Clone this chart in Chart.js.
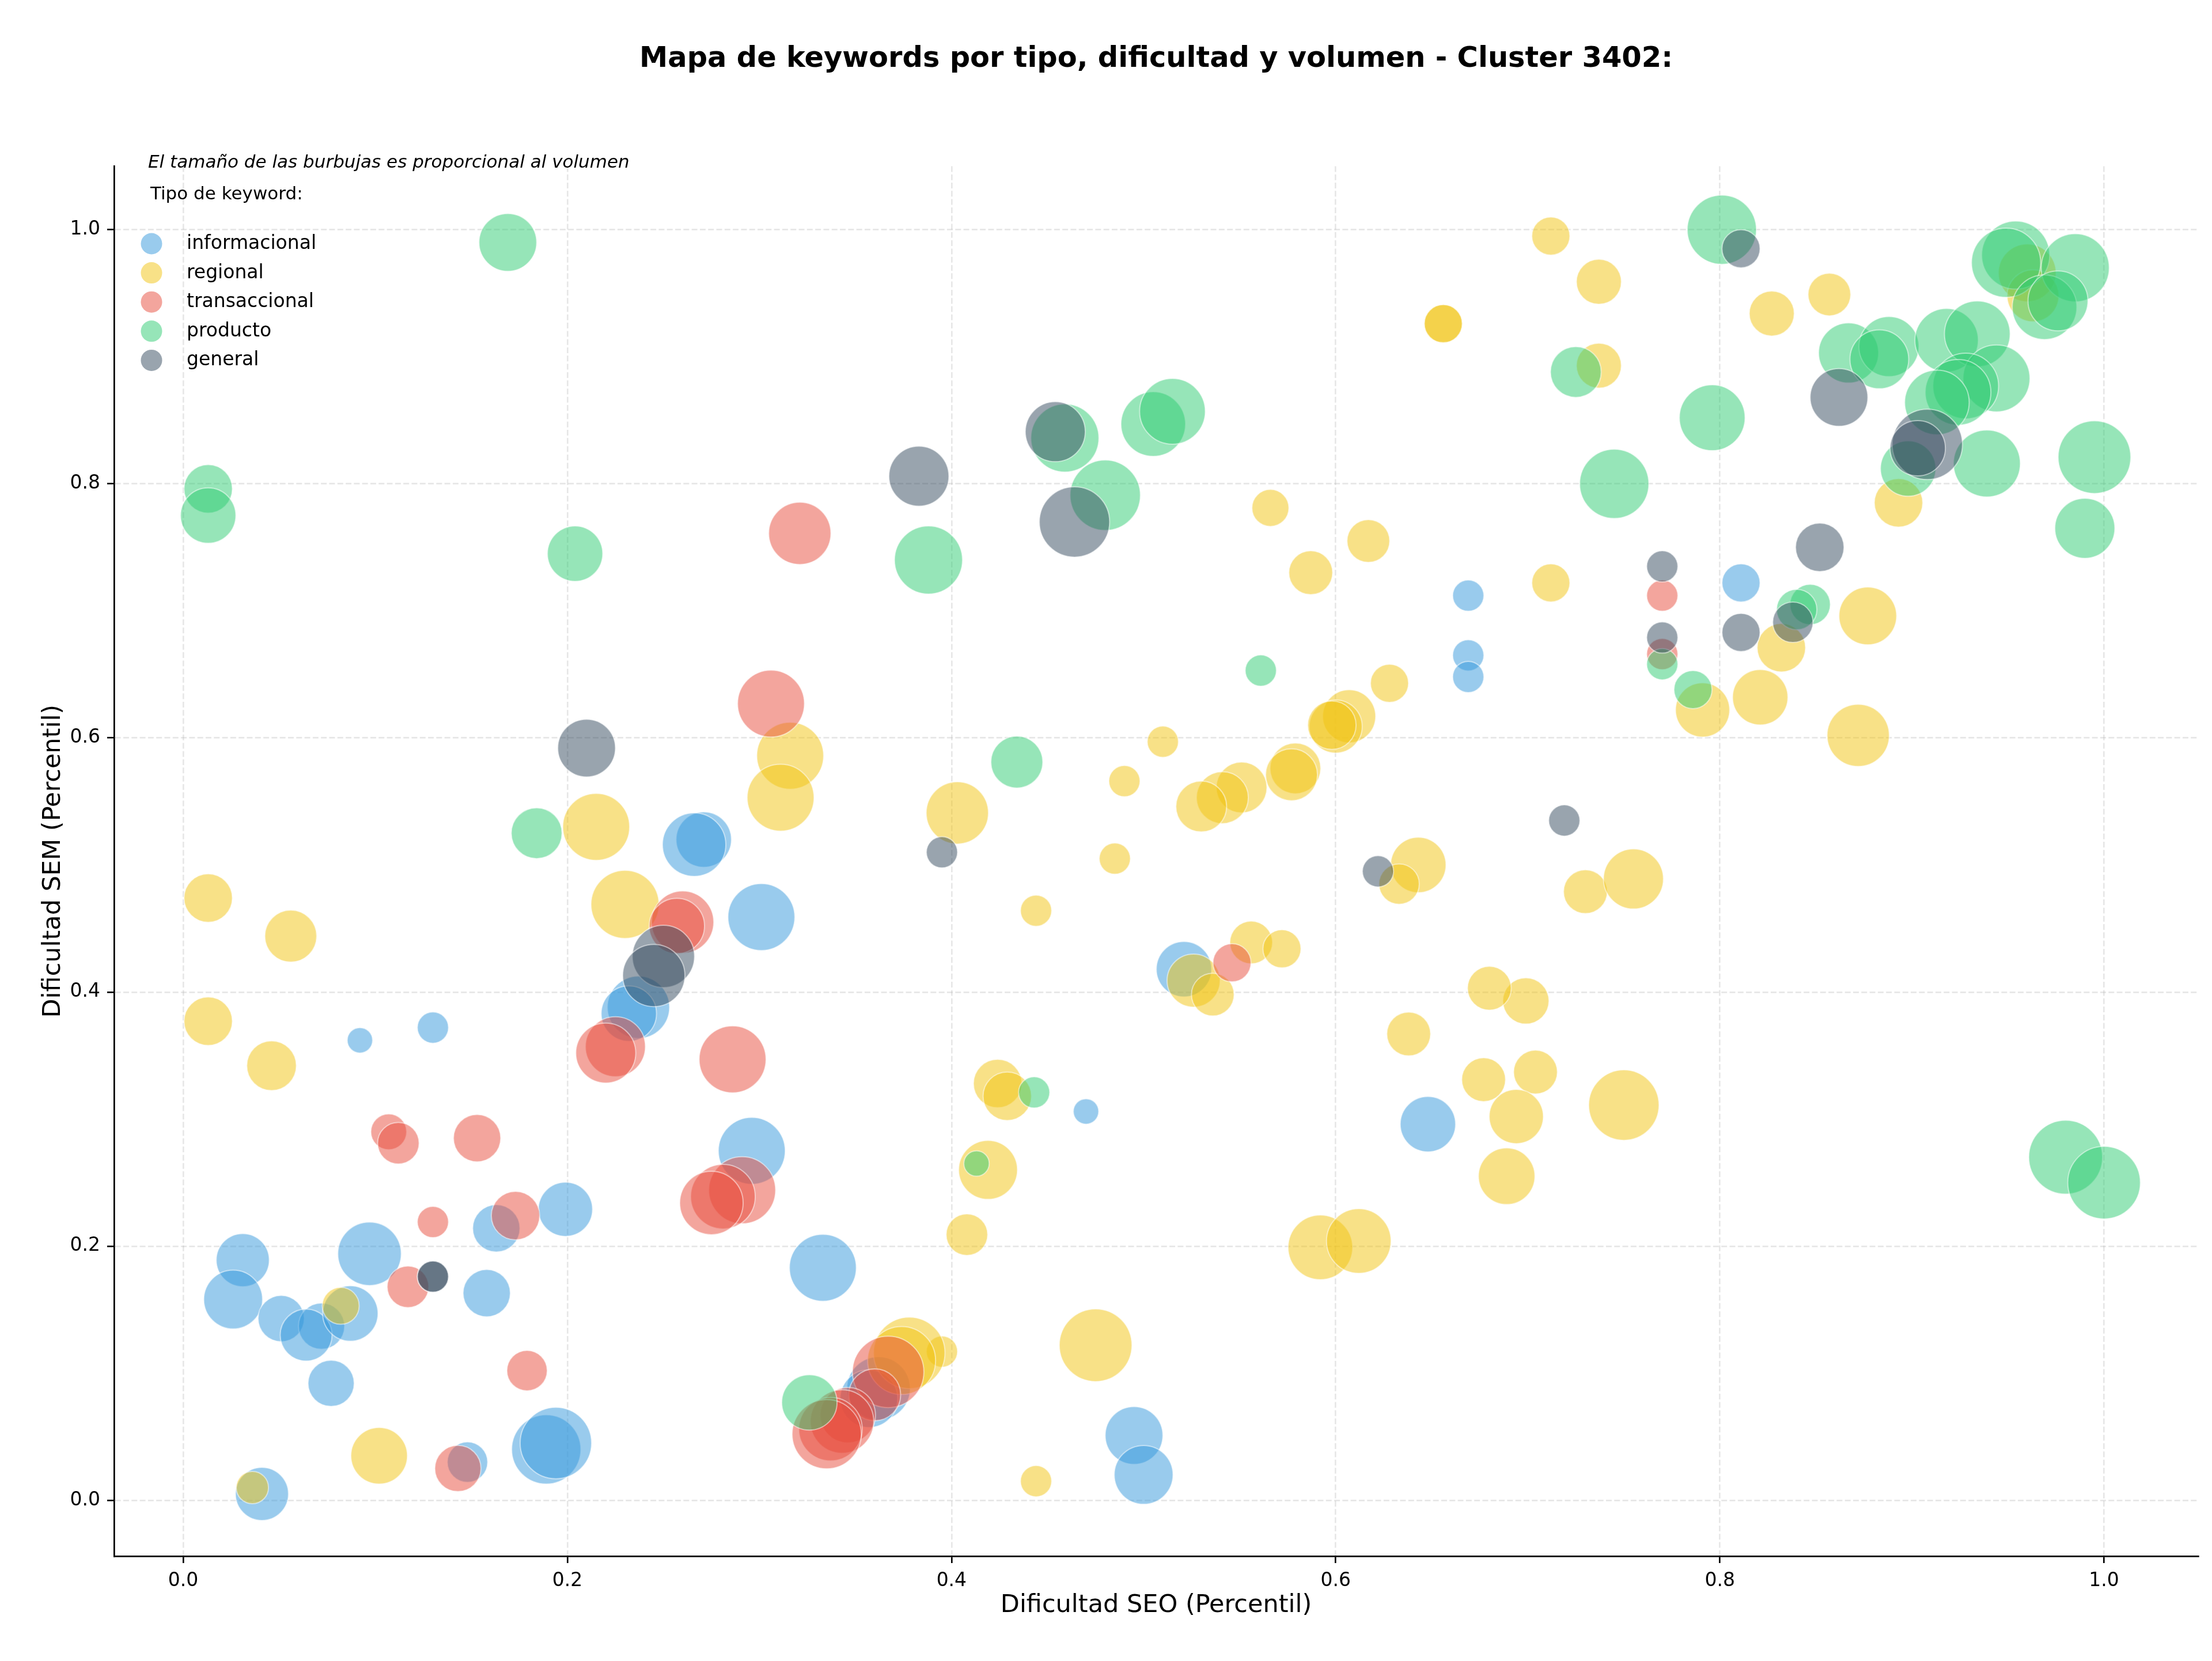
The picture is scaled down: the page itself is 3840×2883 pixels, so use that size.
<!DOCTYPE html>
<html>
<head>
<meta charset="utf-8">
<title>Mapa de keywords - Cluster 3402</title>
<script src="https://cdn.jsdelivr.net/npm/chart.js@4.4.0/dist/chart.umd.min.js"></script>
<style>
  html, body { margin: 0; padding: 0; background: #fff; }
</style>
</head>
<body>
<canvas id="mapaKeywords" width="3840" height="2883"></canvas>
<script>
// tipos de keyword y colores
const tipos = ["informacional", "regional", "transaccional", "producto", "general"];
const colores = ["#3498db", "#f1c40f", "#e74c3c", "#2ecc71", "#34495e"];

// informacional
const infoSeo = [0.669, 0.811, 0.669, 0.669, 0.521, 0.470, 0.648, 0.495, 0.500, 0.333, 0.362, 0.357, 0.296, 0.199, 0.163, 0.031, 0.026, 0.097, 0.158, 0.051, 0.072, 0.064, 0.087, 0.077, 0.148, 0.189, 0.194, 0.041, 0.271, 0.266, 0.301, 0.237, 0.232, 0.092, 0.130];
const infoSem = [0.712, 0.722, 0.665, 0.648, 0.418, 0.306, 0.296, 0.051, 0.020, 0.183, 0.088, 0.080, 0.275, 0.229, 0.214, 0.189, 0.158, 0.194, 0.163, 0.143, 0.137, 0.130, 0.147, 0.092, 0.030, 0.040, 0.045, 0.005, 0.520, 0.516, 0.459, 0.388, 0.383, 0.362, 0.372];
const infoVol = [151, 225, 151, 151, 476, 100, 476, 517, 537, 695, 625, 517, 695, 456, 347, 437, 537, 625, 347, 331, 331, 418, 476, 331, 253, 744, 794, 437, 476, 625, 695, 602, 476, 100, 151];

// regional
const regSeo = [0.656, 0.656, 0.566, 0.617, 0.587, 0.712, 0.737, 0.857, 0.827, 0.960, 0.963, 0.737, 0.893, 0.712, 0.877, 0.832, 0.791, 0.821, 0.872, 0.730, 0.755, 0.699, 0.704, 0.750, 0.694, 0.689, 0.628, 0.607, 0.600, 0.598, 0.510, 0.490, 0.579, 0.577, 0.551, 0.541, 0.530, 0.403, 0.485, 0.444, 0.643, 0.633, 0.526, 0.536, 0.556, 0.572, 0.680, 0.638, 0.677, 0.424, 0.429, 0.419, 0.408, 0.592, 0.612, 0.475, 0.444, 0.395, 0.378, 0.374, 0.316, 0.311, 0.215, 0.230, 0.013, 0.056, 0.013, 0.046, 0.082, 0.102, 0.036];
const regSem = [0.926, 0.926, 0.781, 0.755, 0.730, 0.995, 0.959, 0.949, 0.934, 0.966, 0.948, 0.893, 0.785, 0.722, 0.696, 0.671, 0.622, 0.632, 0.602, 0.479, 0.489, 0.393, 0.337, 0.311, 0.302, 0.255, 0.643, 0.617, 0.609, 0.610, 0.597, 0.566, 0.576, 0.571, 0.561, 0.553, 0.546, 0.541, 0.505, 0.464, 0.500, 0.485, 0.409, 0.398, 0.439, 0.434, 0.403, 0.367, 0.331, 0.328, 0.318, 0.260, 0.209, 0.199, 0.204, 0.122, 0.015, 0.117, 0.116, 0.110, 0.586, 0.553, 0.530, 0.469, 0.474, 0.444, 0.377, 0.342, 0.153, 0.035, 0.010];
const regVol = [225, 225, 212, 283, 298, 225, 314, 283, 314, 517, 418, 314, 364, 225, 517, 364, 456, 476, 602, 298, 559, 331, 298, 769, 456, 496, 225, 437, 437, 364, 151, 151, 400, 418, 400, 418, 400, 602, 151, 151, 476, 253, 437, 283, 283, 225, 298, 298, 298, 364, 364, 537, 268, 648, 648, 820, 151, 151, 794, 719, 695, 695, 695, 719, 364, 418, 364, 382, 212, 496, 162];

// transaccional
const transSeo = [0.321, 0.770, 0.770, 0.546, 0.306, 0.260, 0.257, 0.225, 0.220, 0.286, 0.107, 0.112, 0.153, 0.291, 0.281, 0.275, 0.173, 0.130, 0.117, 0.179, 0.143, 0.367, 0.360, 0.346, 0.343, 0.337, 0.335];
const transSem = [0.761, 0.712, 0.666, 0.423, 0.627, 0.455, 0.452, 0.357, 0.352, 0.347, 0.290, 0.281, 0.285, 0.244, 0.239, 0.234, 0.224, 0.219, 0.168, 0.102, 0.025, 0.101, 0.083, 0.067, 0.062, 0.056, 0.052];
const transVol = [602, 151, 151, 225, 695, 602, 476, 559, 559, 695, 199, 268, 347, 695, 648, 625, 364, 151, 268, 253, 331, 794, 418, 476, 625, 625, 744];

// producto
const prodSeo = [0.169, 0.013, 0.013, 0.204, 0.459, 0.505, 0.515, 0.388, 0.480, 0.801, 0.954, 0.949, 0.985, 0.969, 0.976, 0.867, 0.888, 0.883, 0.918, 0.934, 0.944, 0.928, 0.924, 0.913, 0.898, 0.939, 0.995, 0.990, 0.745, 0.796, 0.725, 0.847, 0.840, 0.770, 0.786, 0.561, 0.434, 0.184, 0.443, 0.413, 0.326, 0.980, 1.000];
const prodSem = [0.990, 0.796, 0.775, 0.745, 0.836, 0.847, 0.857, 0.740, 0.791, 1.000, 0.980, 0.974, 0.970, 0.939, 0.944, 0.903, 0.908, 0.898, 0.913, 0.918, 0.883, 0.877, 0.872, 0.864, 0.812, 0.816, 0.821, 0.765, 0.800, 0.852, 0.888, 0.705, 0.701, 0.658, 0.638, 0.653, 0.581, 0.525, 0.321, 0.265, 0.077, 0.270, 0.250];
const prodVol = [517, 364, 476, 476, 719, 648, 671, 719, 769, 744, 719, 744, 719, 648, 559, 559, 559, 537, 625, 671, 695, 671, 671, 648, 476, 695, 820, 559, 744, 671, 400, 253, 253, 151, 225, 151, 418, 400, 151, 100, 476, 846, 820];

// general
const genSeo = [0.454, 0.383, 0.464, 0.811, 0.862, 0.908, 0.903, 0.852, 0.770, 0.770, 0.838, 0.811, 0.719, 0.622, 0.395, 0.210, 0.250, 0.245, 0.130, 0.130];
const genSem = [0.841, 0.806, 0.770, 0.985, 0.868, 0.831, 0.828, 0.750, 0.735, 0.679, 0.691, 0.683, 0.535, 0.495, 0.510, 0.592, 0.428, 0.413, 0.176, 0.176];
const genVol = [559, 559, 769, 225, 517, 769, 476, 364, 151, 151, 253, 225, 151, 151, 151, 517, 602, 602, 151, 151];

const ejeX = [0.0, 0.2, 0.4, 0.6, 0.8, 1.0];
const ejeY = [0.0, 0.2, 0.4, 0.6, 0.8, 1.0];

const series = [
    [infoSeo, infoSem, infoVol],
    [regSeo, regSem, regVol],
    [transSeo, transSem, transVol],
    [prodSeo, prodSem, prodVol],
    [genSeo, genSem, genVol]
];

function conAlpha(hex, a) {
    const n = parseInt(hex.slice(1), 16);
    return `rgba(${(n >> 16) & 255},${(n >> 8) & 255},${n & 255},${a})`;
}

// radio proporcional a la raiz del volumen (area ~ volumen)
const radio = vol => 2.2 * Math.sqrt(vol);

const datasets = tipos.map((tipo, i) => {
    const [xs, ys, vols] = series[i];
    return {
        label: tipo,
        data: xs.map((x, j) => ({ x: x, y: ys[j], r: radio(vols[j]) })),
        backgroundColor: conAlpha(colores[i], 0.5),
        borderColor: "rgba(255,255,255,0.5)",
        borderWidth: 2,
        order: tipos.length - 1 - i   // el ultimo tipo queda encima
    };
});

const FUENTE = "'DejaVu Sans', sans-serif";
Chart.defaults.font.family = FUENTE;
Chart.defaults.color = "#000";

// nota y leyenda dentro del grafico
const notaYLeyenda = {
    id: "notaYLeyenda",
    afterDraw(chart) {
        const ctx = chart.ctx;
        ctx.save();
        ctx.fillStyle = "#000";
        ctx.textAlign = "left";
        ctx.textBaseline = "alphabetic";
        ctx.font = `italic 31px ${FUENTE}`;
        ctx.fillText("El tamaño de las burbujas es proporcional al volumen", 257, 291);

        ctx.font = `31px ${FUENTE}`;
        ctx.fillText("Tipo de keyword:", 261, 346);

        ctx.font = `33px ${FUENTE}`;
        chart.data.datasets.forEach((ds, i) => {
            const yc = 423 + i * 50.6;
            ctx.beginPath();
            ctx.arc(263, yc, 18.5, 0, Math.PI * 2);
            ctx.fillStyle = ds.backgroundColor;
            ctx.fill();
            ctx.fillStyle = "#000";
            ctx.fillText(ds.label, 324, yc + 9);
        });
        ctx.restore();
    }
};

const rejilla = {
    color: "rgba(176,176,176,0.3)",
    lineWidth: 2.67,
    tickLength: 12,
    tickWidth: 2.67,
    tickColor: "#000",
    tickBorderDash: []
};
const borde = { display: true, color: "#000", width: 2.67, dash: [10, 4.3] };

new Chart(document.getElementById("mapaKeywords").getContext("2d"), {
    type: "bubble",
    data: { datasets: datasets },
    plugins: [notaYLeyenda],
    options: {
        responsive: false,
        devicePixelRatio: 1,
        animation: false,
        layout: {
            autoPadding: false,
            padding: { top: 0, right: 24, bottom: 0, left: 0 }
        },
        scales: {
            x: {
                type: "linear",
                min: -0.036,
                max: 1.049,
                afterBuildTicks: s => { s.ticks = ejeX.map(v => ({ value: v })); },
                afterFit: s => {
                    s.height = 182;
                    s.paddingLeft = 0;
                    s.paddingRight = 0;
                },
                ticks: {
                    font: { size: 33 },
                    padding: 12,
                    maxRotation: 0,
                    callback: v => v.toFixed(1)
                },
                grid: rejilla,
                border: borde,
                title: {
                    display: true,
                    text: "Dificultad SEO (Percentil)",
                    font: { size: 43 },
                    padding: { top: 0, bottom: 70 }
                }
            },
            y: {
                type: "linear",
                min: -0.044,
                max: 1.050,
                afterBuildTicks: s => { s.ticks = ejeY.map(v => ({ value: v })); },
                afterFit: s => {
                    s.width = 198;
                    s.paddingTop = 0;
                    s.paddingBottom = 0;
                },
                ticks: {
                    font: { size: 33 },
                    padding: 12,
                    callback: v => v.toFixed(1)
                },
                grid: rejilla,
                border: borde,
                title: {
                    display: true,
                    text: "Dificultad SEM (Percentil)",
                    font: { size: 43 },
                    padding: { top: 67, bottom: 0 }
                }
            }
        },
        plugins: {
            legend: { display: false },
            tooltip: { enabled: false },
            title: {
                display: true,
                fullSize: false,
                text: "Mapa de keywords por tipo, dificultad y volumen - Cluster 3402:",
                font: { size: 49.5, weight: "bold" },
                color: "#000",
                padding: { top: 73, bottom: 156 }
            }
        }
    }
});
</script>
</body>
</html>
